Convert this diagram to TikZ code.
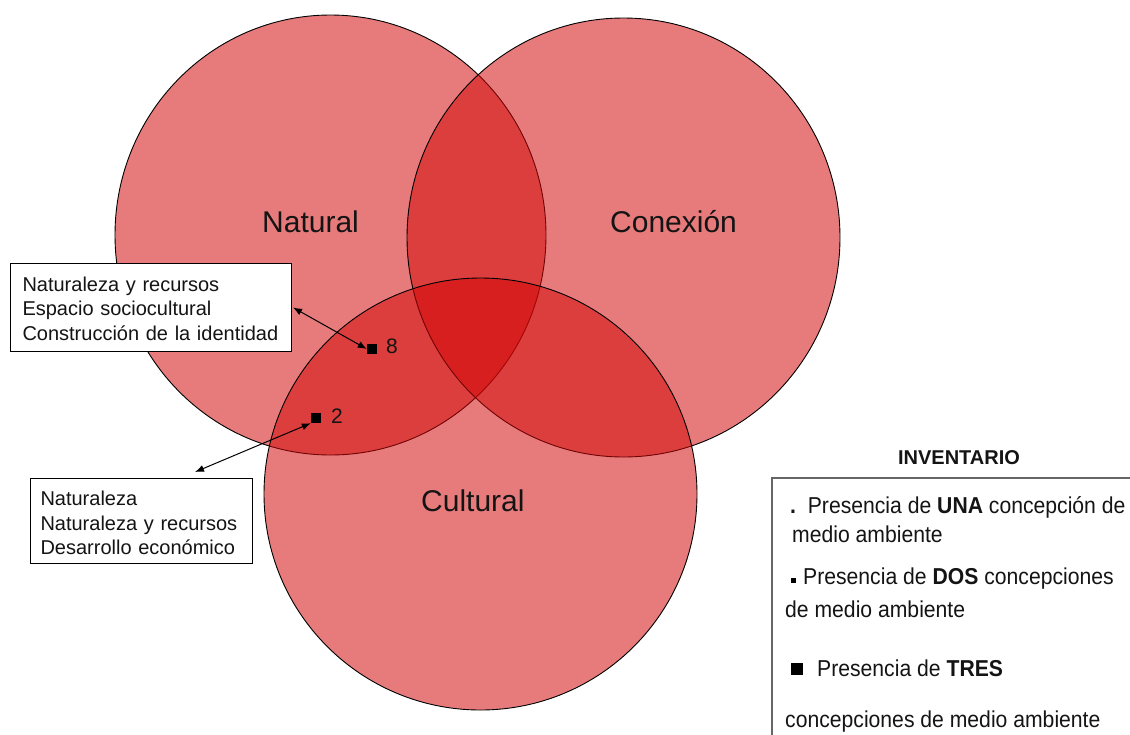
\documentclass[tikz,border=0pt]{standalone}
\usepackage{fontspec}
\setmainfont{Liberation Sans}
\newfontfamily\legfont{Liberation Sans}[FakeStretch=0.92]
\usetikzlibrary{shapes.geometric,arrows.meta}
\definecolor{vred}{RGB}{211,6,6}
\definecolor{ink}{RGB}{20,20,20}
\begin{document}
\begin{tikzpicture}[x=1pt,y=-1pt,
 venn/.style={ellipse, draw=black, line width=0.9pt, fill=vred, fill opacity=0.53, inner sep=0pt, outer sep=0pt},
 setlabel/.style={font=\fontsize{30}{36}\selectfont, text=ink, anchor=base west, inner sep=0pt},
 infobox/.style={draw=black, line width=1pt, fill=white, align=left, anchor=north west,
   font=\fontsize{20}{24.5}\selectfont, text=ink, inner ysep=0pt},
 marker/.style={fill=black, minimum size=10pt, inner sep=0pt},
 count/.style={font=\fontsize{21}{24}\selectfont, text=ink, anchor=base west, inner sep=0pt},
 dblarrow/.style={{Latex[length=9pt,width=7pt]}-{Latex[length=9pt,width=7pt]}, line width=1pt},
 legtext/.style={font=\legfont\fontsize{23}{27}\selectfont, text=ink, anchor=base west, inner sep=0pt},
 legtitle/.style={font=\bfseries\fontsize{20}{24}\selectfont, text=ink, anchor=base, inner sep=0pt}
]
\useasboundingbox (0,0) rectangle (1130,734);
\fill[white] (0,0) rectangle (1130,734);

% Venn sets
\node[venn, minimum width=431pt, minimum height=440pt] (nat) at (330.5,235) {};
\node[venn, minimum width=433pt, minimum height=439pt] (con) at (623.5,237.5) {};
\node[venn, minimum width=433pt, minimum height=432pt] (cul) at (480.5,494) {};

\node[setlabel] (natl) at (262,232) {Natural};
\node[setlabel] (conl) at (610,232) {Conexión};
\node[setlabel] (cull) at (421,511) {Cultural};

% markers
\node[marker] (sq8) at (372,349) {};
\node[count] (n8) at (386,353) {8};
\node[marker] (sq2) at (316,418) {};
\node[count] (n2) at (331,423) {2};

% info boxes
\node[infobox, text width=257pt, inner xsep=12pt, minimum height=88pt] (box1) at (10,263)
 {\rule{0pt}{17pt}Naturaleza y recursos\\Espacio sociocultural\\Construcción de la identidad};
\node[infobox, text width=202pt, inner xsep=10pt, minimum height=85pt] (box2) at (30,478)
 {\rule{0pt}{19pt}Naturaleza\\Naturaleza y recursos\\Desarrollo económico};

\coordinate (a2) at (195,472);
\draw[dblarrow] ([xshift=1pt]box1.east) -- (sq8.west);
\draw[dblarrow] (sq2.south west) -- (a2);

% legend
\node[legtitle] (inv) at (959,464) {INVENTARIO};
\draw[line width=1.2pt, draw=black!60] (1140,478) -- (772,478) -- (772,745);
\node[legtext] (l1) at (790,513) {\textbf{.}\ \ Presencia de \textbf{UNA} concepción de};
\node[legtext] (l2) at (792,542) {medio ambiente};
\node[fill=black, minimum size=5pt, inner sep=0pt] (b2) at (793,580) {};
\node[legtext] (l3) at (803,584) {Presencia de \textbf{DOS} concepciones};
\node[legtext] (l4) at (785,617) {de medio ambiente};
\node[fill=black, minimum size=12pt, inner sep=0pt] (b3) at (797,669) {};
\node[legtext] (l5) at (817,676) {Presencia de \textbf{TRES}};
\node[legtext] (l6) at (785,727) {concepciones de medio ambiente};
\end{tikzpicture}
\end{document}
